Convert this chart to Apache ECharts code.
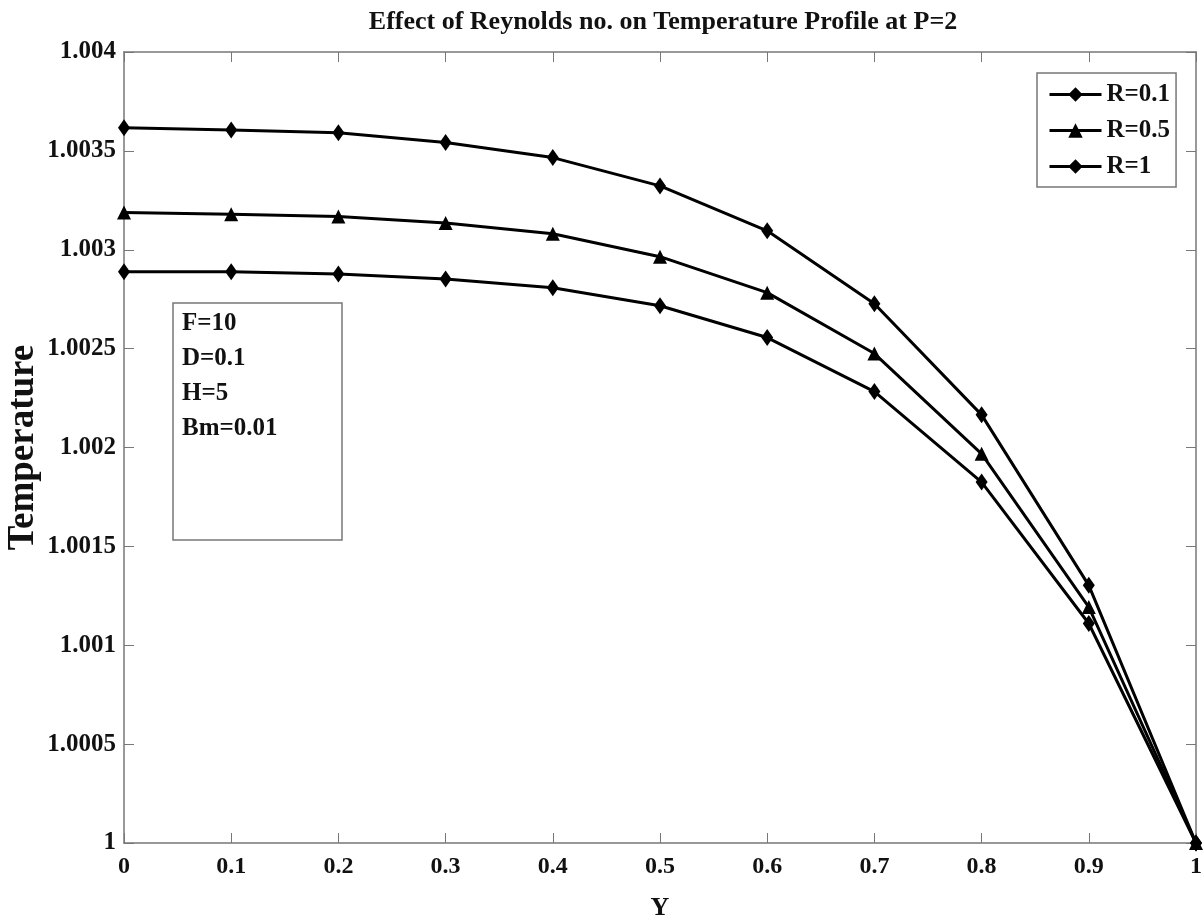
<!DOCTYPE html>
<html>
<head>
<meta charset="utf-8">
<script src="https://cdn.jsdelivr.net/npm/echarts@6/dist/echarts.min.js"></script>
<style>html,body{margin:0;padding:0;background:#fff}#c{width:1203px;height:918px}</style>
</head>
<body>
<div id="c"></div>
<script>
var yPos = [0, 0.1, 0.2, 0.3, 0.4, 0.5, 0.6, 0.7, 0.8, 0.9, 1];
var seriesNames = ['R=0.1', 'R=0.5', 'R=1'];
var r01 = [1.003617, 1.003606, 1.003592, 1.003542, 1.003466, 1.003323, 1.003096, 1.002727, 1.002165, 1.001303, 1.0];
var r05 = [1.003188, 1.003180, 1.003168, 1.003135, 1.003081, 1.002965, 1.002783, 1.002475, 1.001968, 1.001193, 1.0];
var r1  = [1.002889, 1.002889, 1.002877, 1.002852, 1.002808, 1.002717, 1.002556, 1.002283, 1.001825, 1.001110, 1.0];
var paramLines = ['F=10', 'D=0.1', 'H=5', 'Bm=0.01'];
var titleText = 'Effect of Reynolds no. on Temperature Profile at P=2';

function pairs(vals) { return yPos.map(function (x, i) { return [x, vals[i]]; }); }
var FONT = '"Liberation Serif", "Times New Roman", serif';
var axisGray = '#777';

function mk(name, vals, symbol, size) {
  return {
    name: name, type: 'line', data: pairs(vals),
    symbol: symbol, symbolSize: size, showSymbol: true,
    lineStyle: { color: '#000', width: 3 },
    itemStyle: { color: '#000' },
    emphasis: { disabled: true }
  };
}

var chart = echarts.init(document.getElementById('c'));
chart.setOption({
  animation: false,
  backgroundColor: '#fff',
  title: {
    text: titleText, left: 658, top: 4, textAlign: 'center',
    textStyle: { fontFamily: FONT, fontWeight: 'bold', fontSize: 26, color: '#111' }
  },
  grid: { left: 124, right: 7, top: 52, bottom: 75, containLabel: false, outerBoundsMode: 'none' },
  legend: {
    data: seriesNames, orient: 'vertical', left: 1037, top: 73,
    padding: [9, 6, 8, 11], itemGap: 11, itemWidth: 52, itemHeight: 18,
    borderColor: axisGray, borderWidth: 1.5, backgroundColor: '#fff',
    lineStyle: { width: 3, color: '#000' },
    textStyle: { fontFamily: FONT, fontWeight: 'bold', fontSize: 25, color: '#111', lineHeight: 24 }
  },
  xAxis: [{
    type: 'value', min: 0, max: 1, interval: 0.1,
    name: 'Y', nameLocation: 'middle', nameGap: 52, nameMoveOverlap: false,
    nameTextStyle: { fontFamily: FONT, fontWeight: 'bold', fontSize: 26, color: '#111' },
    axisLine: { onZero: false, lineStyle: { color: axisGray, width: 1.5 } },
    axisTick: { inside: true, length: 10, lineStyle: { color: axisGray } },
    axisLabel: { margin: 12, fontFamily: FONT, fontWeight: 'bold', fontSize: 24, color: '#111',
      formatter: function (v) { return String(parseFloat(v.toFixed(1))); } },
    splitLine: { show: false }
  }, {
    type: 'value', position: 'top', min: 0, max: 1, interval: 0.1,
    axisLine: { onZero: false, lineStyle: { color: axisGray, width: 1.5 } },
    axisTick: { inside: true, length: 10, lineStyle: { color: axisGray } },
    axisLabel: { show: false }, splitLine: { show: false }
  }],
  yAxis: [{
    type: 'value', min: 1, max: 1.004, interval: 0.0005,
    name: 'Temperature', nameLocation: 'middle', nameGap: 82, nameRotate: 90, nameMoveOverlap: false,
    nameTextStyle: { fontFamily: FONT, fontWeight: 'bold', fontSize: 37, color: '#111' },
    axisLine: { show: true, onZero: false, lineStyle: { color: axisGray, width: 1.5 } },
    axisTick: { show: true, inside: true, length: 10, lineStyle: { color: axisGray } },
    axisLabel: { margin: 8, fontFamily: FONT, fontWeight: 'bold', fontSize: 25, color: '#111',
      formatter: function (v) { return String(parseFloat(v.toFixed(4))); } },
    splitLine: { show: false }
  }, {
    type: 'value', position: 'right', min: 1, max: 1.004, interval: 0.0005,
    axisLine: { show: true, onZero: false, lineStyle: { color: axisGray, width: 1.5 } },
    axisTick: { show: true, inside: true, length: 10, lineStyle: { color: axisGray } },
    axisLabel: { show: false }, splitLine: { show: false }
  }],
  series: [
    mk(seriesNames[0], r01, 'diamond', [12, 17]),
    mk(seriesNames[1], r05, 'triangle', [14, 14]),
    mk(seriesNames[2], r1, 'diamond', [12, 17])
  ],
  graphic: [{
    type: 'rect', shape: { x: 173, y: 303, width: 169, height: 237 },
    style: { fill: '#fff', stroke: axisGray, lineWidth: 1.5 }, z: 10
  }].concat(paramLines.map(function (t, i) {
    return {
      type: 'text', x: 182, y: 324 + i * 35, z: 11,
      style: { text: t, fontFamily: FONT, fontWeight: 'bold', fontSize: 25, fill: '#111', verticalAlign: 'middle' }
    };
  }))
});
</script>
</body>
</html>
